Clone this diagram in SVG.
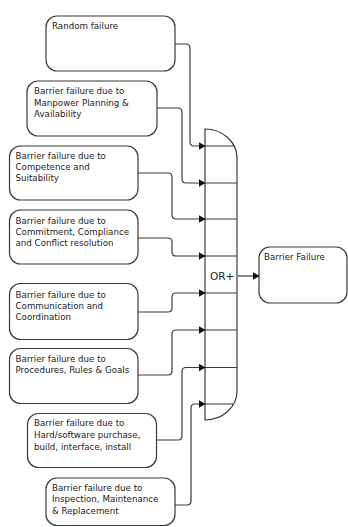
<svg xmlns="http://www.w3.org/2000/svg" width="348" height="527" viewBox="0 0 348 527">
<style>
.box{fill:#fff;stroke:#3a3a3a;stroke-width:1.2}
.t{font-family:"DejaVu Sans",Verdana,sans-serif;font-size:8.7px;fill:#222}
.c{fill:none;stroke:#3a3a3a;stroke-width:1.2}
.g{fill:#fff;stroke:#3a3a3a;stroke-width:1.2}
</style>
<defs>
<marker id="ah" markerWidth="7" markerHeight="8" refX="6.5" refY="4" orient="auto" markerUnits="userSpaceOnUse">
<path d="M0,0 L7,4 L0,8 Z" fill="#111"/>
</marker>
</defs>
<rect width="348" height="527" fill="#fff"/>
<g id="n1"><rect class="box" x="46" y="16" width="129" height="55" rx="11"/><text class="t" x="52" y="29">Random failure</text></g>
<g id="n2"><rect class="box" x="27" y="81" width="130" height="55" rx="11"/><text class="t" x="34" y="94">Barrier failure due to</text><text class="t" x="34" y="105.5">Manpower Planning &amp;</text><text class="t" x="34" y="117">Availability</text></g>
<g id="n3"><rect class="box" x="9.5" y="146" width="128.5" height="54" rx="11"/><text class="t" x="15.5" y="158.5">Barrier failure due to</text><text class="t" x="15.5" y="170">Competence and</text><text class="t" x="15.5" y="181">Suitability</text></g>
<g id="n4"><rect class="box" x="9.5" y="210" width="128.5" height="54" rx="11"/><text class="t" x="15.5" y="223.5">Barrier failure due to</text><text class="t" x="15.5" y="235">Commitment, Compliance</text><text class="t" x="15.5" y="246">and Conflict resolution</text></g>
<g id="n5"><rect class="box" x="9.5" y="283.5" width="128.5" height="56" rx="11"/><text class="t" x="15.5" y="297.5">Barrier failure due to</text><text class="t" x="15.5" y="309">Communication and</text><text class="t" x="15.5" y="320">Coordination</text></g>
<g id="n6"><rect class="box" x="9.5" y="348.5" width="128.5" height="55" rx="11"/><text class="t" x="15.5" y="361.5">Barrier failure due to</text><text class="t" x="15.5" y="373">Procedures, Rules &amp; Goals</text></g>
<g id="n7"><rect class="box" x="27.5" y="413.5" width="129" height="54" rx="11"/><text class="t" x="34" y="426">Barrier failure due to</text><text class="t" x="34" y="438">Hard/software purchase,</text><text class="t" x="34" y="449.5">build, interface, install</text></g>
<g id="n8"><rect class="box" x="46" y="478" width="129" height="47.5" rx="11"/><text class="t" x="52" y="490.5">Barrier failure due to</text><text class="t" x="52" y="502">Inspection, Maintenance</text><text class="t" x="52" y="513.5">&amp; Replacement</text></g>
<g id="gate">
<path class="g" d="M205,129 A32,29 0 0 1 237,158 V391 A32,29 0 0 1 205,420 Z"/>
<path class="c" d="M205,146 H234 M205,183 H237 M205,219 H237 M205,256 H237 M205,293 H237 M205,330 H237 M205,367.5 H237 M205,404 H233.5"/>
<rect x="208" y="267" width="28" height="18" fill="#fff"/>
<text x="210" y="280" font-family="DejaVu Sans,Verdana,sans-serif" font-size="10.5" fill="#222">OR+</text>
</g>
<g id="out"><rect class="box" x="259" y="247" width="88" height="56" rx="11"/><text class="t" x="264" y="259.5">Barrier Failure</text></g>
<g id="connectors">
<path class="c" marker-end="url(#ah)" d="M175,44 H186 Q190,44 190,48 V142 Q190,146 194,146 H205"/>
<path class="c" marker-end="url(#ah)" d="M157,108 H178 Q182,108 182,112 V179 Q182,183 186,183 H205"/>
<path class="c" marker-end="url(#ah)" d="M138,173 H168 Q172,173 172,177 V215 Q172,219 176,219 H205"/>
<path class="c" marker-end="url(#ah)" d="M138,238 H168 Q172,238 172,242 V252 Q172,256 176,256 H205"/>
<path class="c" marker-end="url(#ah)" d="M138,312 H168 Q172,312 172,308 V297 Q172,293 176,293 H205"/>
<path class="c" marker-end="url(#ah)" d="M138,375 H168 Q172,375 172,371 V334 Q172,330 176,330 H205"/>
<path class="c" marker-end="url(#ah)" d="M156.5,440 H178 Q182,440 182,436 V371.5 Q182,367.5 186,367.5 H205"/>
<path class="c" marker-end="url(#ah)" d="M175,505 H187 Q191,505 191,501 V408 Q191,404 195,404 H205"/>
<path class="c" marker-end="url(#ah)" d="M238,276 H259"/>
</g>
</svg>
